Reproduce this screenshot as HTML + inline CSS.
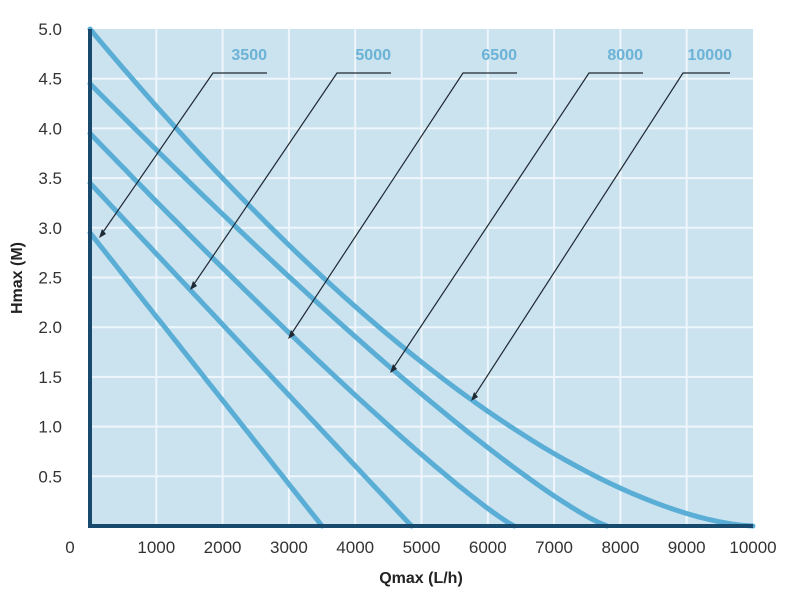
<!DOCTYPE html>
<html><head><meta charset="utf-8"><style>
body{margin:0;background:#fff;}
svg{display:block;font-family:"Liberation Sans",sans-serif;}
</style></head><body>
<svg id="s" width="800" height="600" xmlns="http://www.w3.org/2000/svg">
<rect x="90" y="29" width="663" height="497" fill="#cbe2ef"/>
<g id="grid" stroke="#eef6fb" stroke-width="2"></g>
<g id="curves" fill="none" stroke="#5aaed6" stroke-width="5" stroke-linecap="round"></g>
<g stroke="#1f2a33" stroke-width="1.2" fill="none">
<polyline points="101,235 213,73 267,73"/>
<polyline points="192,287 337,73 391,73"/>
<polyline points="290,336 463,73 517,73"/>
<polyline points="392,370 589,73 643,73"/>
<polyline points="473,398 683,73 730,73"/>
</g>
<g fill="#1f2a33">
<polygon points="99,238 102,229 106,234"/>
<polygon points="190,290 193,281 197,286"/>
<polygon points="288,339 291,330 295,335"/>
<polygon points="390,373 393,364 397,369"/>
<polygon points="471,401 474,392 478,397"/>
</g>
<g fill="#6bb3d6" font-size="16" font-weight="bold" text-anchor="end">
<text x="267" y="60">3500</text><text x="391" y="60">5000</text>
<text x="517" y="60">6500</text><text x="643" y="60">8000</text>
<text x="732" y="60">10000</text>
</g>
<line x1="90" y1="29" x2="90" y2="527" stroke="#174a6c" stroke-width="4"/>
<line x1="88" y1="526" x2="753" y2="526" stroke="#174a6c" stroke-width="4"/>
<g id="lab" fill="#333" font-size="17"></g>
<text x="421" y="583" font-size="16" font-weight="bold" fill="#222" text-anchor="middle">Qmax (L/h)</text>
<text transform="translate(22,278) rotate(-90)" font-size="16" font-weight="bold" fill="#222" text-anchor="middle">Hmax (M)</text>
</svg>
<script>
var ns="http://www.w3.org/2000/svg";
function X(q){return 90+q*0.0663;}function Y(h){return 526-h*99.4;}
var g=document.getElementById('grid'),lab=document.getElementById('lab');
function el(p,t,a){var e=document.createElementNS(ns,t);for(var k in a)e.setAttribute(k,a[k]);p.appendChild(e);return e;}
for(var i=1;i<=9;i++)el(g,'line',{x1:X(i*1000),y1:29,x2:X(i*1000),y2:526});
for(var i=1;i<=9;i++)el(g,'line',{x1:90,y1:Y(i*0.5),x2:753,y2:Y(i*0.5)});
for(var i=0;i<=10;i++){var t=el(lab,'text',{x:i==0?70:X(i*1000),y:553,'text-anchor':'middle'});t.textContent=i==0?'0':String(i*1000);}
for(var i=1;i<=10;i++){var t=el(lab,'text',{x:62,y:Y(i*0.5)+6,'text-anchor':'end'});t.textContent=(i*0.5).toFixed(1);}
var c=[[5,10000,1.6],[4.45,7800,1.18],[3.95,6400,1.12],[3.45,4850,1.0],[2.95,3500,1.0]];
var cg=document.getElementById('curves');
c.forEach(function(a){var pts=[];for(var k=0;k<=60;k++){var q=a[1]*k/60;pts.push(X(q).toFixed(1)+','+Y(a[0]*Math.pow(1-q/a[1],a[2])).toFixed(1));}
el(cg,'polyline',{points:pts.join(' ')});});
</script>
</body></html>
